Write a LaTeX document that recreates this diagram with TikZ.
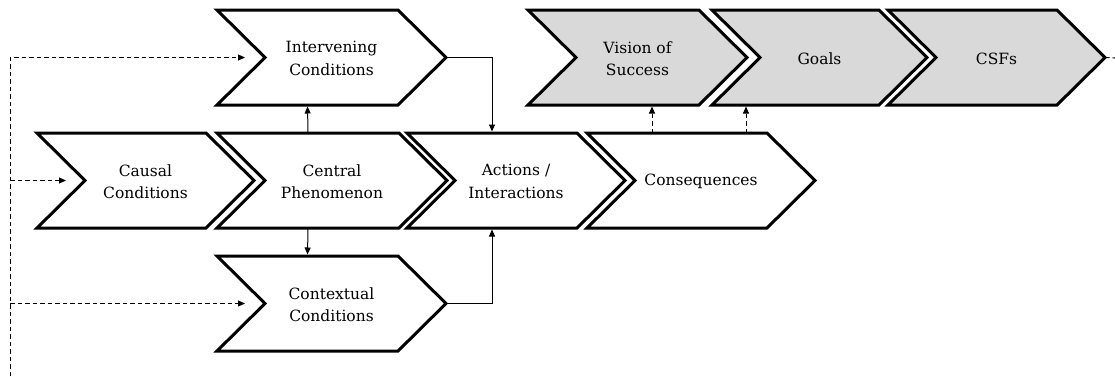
\documentclass[tikz,border=0pt]{standalone}
\usepackage{fontspec}
\setmainfont{DejaVu Serif}
\usetikzlibrary{arrows.meta,calc}
\definecolor{shade}{HTML}{D9D9D9}

% One chevron: name, left x, right x (top/bottom corner), top y, bottom y, fill, label
\newcommand\chev[7]{%
  \pgfmathsetmacro\chmid{(#4+#5)/2}%
  \coordinate (#1-tl) at (#2,#4);
  \coordinate (#1-tr) at (#3,#4);
  \coordinate (#1-tip) at (#3+48,\chmid);
  \coordinate (#1-br) at (#3,#5);
  \coordinate (#1-bl) at (#2,#5);
  \coordinate (#1-notch) at (#2+48,\chmid);
  \coordinate (#1-n) at ({(#2+#3)/2},#4);
  \coordinate (#1-s) at ({(#2+#3)/2},#5);
  \draw[chev,fill=#6] (#1-tl) -- (#1-tr) -- (#1-tip) -- (#1-br) -- (#1-bl) -- (#1-notch) -- cycle;
  \node[lbl] (#1) at ({(#2+#3+48)/2},\chmid) {#7};
}

\begin{document}
\begin{tikzpicture}[x=1pt,y=-1pt,
  chev/.style={draw=black,line width=3pt,line join=miter},
  lbl/.style={align=center,font=\fontsize{15.5}{22.5}\selectfont,inner sep=0pt,yshift=-1pt},
  link/.style={line width=1pt,-{Triangle[length=7pt,width=6pt]}},
  dlink/.style={link,dash pattern=on 4.5pt off 3pt},
]
\useasboundingbox (0,0) rectangle (1115,376);

% upper row
\chev{int}{217}{398}{10}{105}{white}{Intervening\\Conditions}
\chev{vis}{528}{699}{10}{105}{shade}{Vision of\\Success}
\chev{goa}{712}{879}{10}{105}{shade}{Goals}
\chev{csf}{888}{1057}{10}{105}{shade}{CSFs}

% middle row
\chev{cau}{37}{206}{133}{228}{white}{Causal\\Conditions}
\chev{cen}{217}{399}{133}{228}{white}{Central\\Phenomenon}
\chev{act}{407}{577}{133}{228}{white}{Actions /\\Interactions}
\chev{con}{587}{767}{133}{228}{white}{Consequences}

% lower row
\chev{ctx}{217}{398}{256}{351}{white}{Contextual\\Conditions}

% dashed feed on the left
\coordinate (rail) at (10,376);
\draw[dlink,shorten >=20pt] (rail) -- (rail |- int-notch) -- (int-notch);
\draw[dlink,shorten >=19pt] (rail |- cau-notch) -- (cau-notch);
\draw[dlink,shorten >=20pt] (rail |- ctx-notch) -- (ctx-notch);

% solid links around the central phenomenon
\draw[link,shorten >=1.5pt] (cen-n) -- (int-s);
\draw[link,shorten >=1.5pt] (cen-s) -- (ctx-n);
\draw[link,shorten >=1.5pt] (int-tip) -| (act-n);
\draw[link,shorten >=1.5pt] (ctx-tip) -| (act-s);

% consequences feeding the upper row
\coordinate (up1) at ($(con-tl)+(65,0)$);
\coordinate (up2) at ($(con-tl)+(159,0)$);
\draw[dlink,shorten >=1.5pt] (up1) -- (up1 |- vis-bl);
\draw[dlink,shorten >=1.5pt] (up2) -- (up2 |- goa-bl);

% trailing line out of CSFs
\coordinate (exit) at (1115,58);
\draw[line width=1pt,dash pattern=on 4.5pt off 3pt] (csf-tip) -- (exit);
\end{tikzpicture}
\end{document}
